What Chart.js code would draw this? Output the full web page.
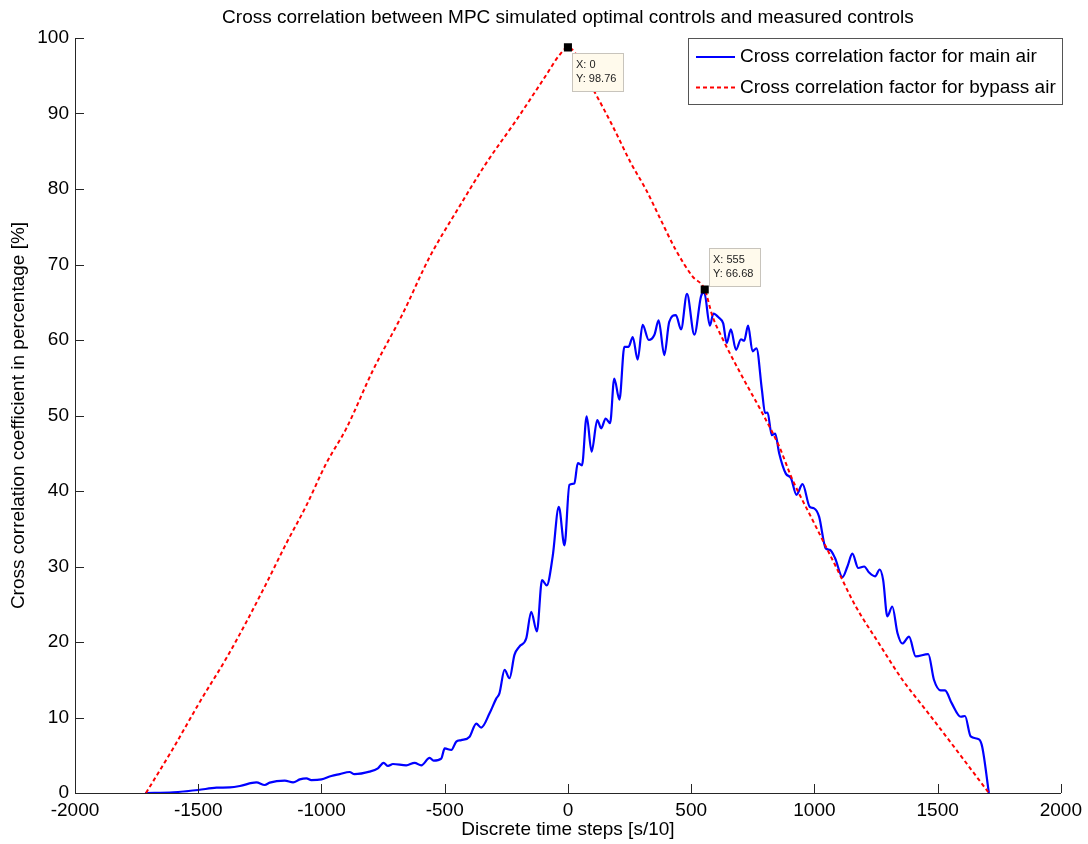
<!DOCTYPE html>
<html>
<head>
<meta charset="utf-8">
<title>Cross correlation</title>
<script src="https://cdn.jsdelivr.net/npm/chart.js@4.4.1/dist/chart.umd.min.js"></script>
<style>
  html, body { margin: 0; padding: 0; background: #fff; }
  canvas { display: block; }
</style>
</head>
<body>
<canvas id="xcorr" width="1088" height="844"></canvas>
<script>
// Lag (discrete steps) and cross-correlation [%] for the main air control
const mainLag = [-1716,-1601,-1500,-1426,-1372,-1331,-1264,-1230,-1210,-1149,-1115,-1088,-1061,-1041,-1000,
  -960,-926,-886,-866,-805,-771,-748,-730,-710,-656,-622,-595,-561,-545,-514,-500,-473,-453,-433,-399,
  -372,-352,-318,-291,-278,-257,-237,-217,-197,-169,-149,-126,-105,-86,-62,-37,-14,6,26,40,57,76,96,
  119,135,153,171,188,209,229,246,263,283,303,328,351,368,391,411,438,459,483,513,540,553,576,590,614,
  630,644,661,682,702,715,731,749,765,787,800,810,827,841,857,884,905,927,952,981,999,1019,1046,1063,
  1084,1114,1134,1154,1178,1202,1222,1246,1265,1279,1296,1316,1337,1357,1384,1411,1462,1485,1512,1530,
  1557,1594,1611,1634,1668,1681,1708];
const mainPct = [0,0.1,0.4,0.7,0.75,0.93,1.4,1.06,1.37,1.63,1.4,1.8,1.94,1.7,1.8,
  2.25,2.5,2.78,2.5,2.83,3.27,4.0,3.58,3.84,3.66,4.0,3.66,4.64,4.28,4.55,5.9,5.7,6.8,7.0,7.46,
  9.2,8.65,10.55,12.5,13.2,16.3,15.2,18.3,19.4,20.5,24.0,21.4,28.2,27.5,31.3,37.9,32.8,40.8,41.0,43.7,43.4,49.9,45.2,
  49.4,48.3,49.6,49.0,54.9,52.1,59.1,59.1,60.4,57.4,62.0,60.0,60.7,62.6,58.0,62.4,63.3,61.4,66.1,60.7,65.8,66.3,61.9,63.5,62.9,
  62.2,59.6,61.4,58.7,60.1,59.9,61.9,58.5,58.9,53.4,50.3,50.4,47.4,47.6,45.0,42.3,41.7,39.5,40.9,37.9,37.7,36.6,32.4,32.2,
  31.1,28.6,30.0,31.7,29.8,30.0,29.2,28.7,29.6,28.2,23.4,24.7,21.2,19.8,20.7,18.1,18.4,15.0,13.6,13.6,
  11.9,10.1,10.2,7.5,7.1,6.1,0];

// Lag and cross-correlation [%] for the bypass air control
const bypassLag = [-1712,-1602,-1493,-1385,-1304,-1223,-1142,-1061,-980,-899,-791,-670,-561,-440,-332,-210,-102,-28,0,
  107,182,256,317,371,438,506,555,587,627,708,789,857,911,992,1087,1168,1262,1357,1452,1546,1627,1708];
const bypassPct = [0,5.9,12.1,17.9,22.7,27.8,33.1,38.1,43.7,48.3,56.0,63.5,71.0,77.7,83.4,89.1,94.4,98.0,98.76,
  92.9,88.3,83.4,79.9,76.3,71.9,68.4,66.68,63.1,60.2,55.1,50.3,45.9,41.5,36.2,30.0,24.7,19.8,15.0,11.0,7.0,3.5,0];

// Data cursors placed on the bypass curve
const tipLag = [0, 555];
const tipPct = [98.76, 66.68];

const seriesNames = ['Cross correlation factor for main air', 'Cross correlation factor for bypass air'];
const chartTitle = 'Cross correlation between MPC simulated optimal controls and measured controls';
const xTitle = 'Discrete time steps [s/10]';
const yTitle = 'Cross correlation coefficient in percentage [%]';

const FONT = '"Liberation Sans", Arial, Helvetica, sans-serif';
const FONT_SIZE = 19;
const AXIS_COLOR = '#262626';
const pts = (xs, ys) => xs.map((x, i) => ({ x, y: ys[i] }));

// Titles, inward tick marks, legend box and data-cursor labels
const decor = {
  id: 'decor',
  afterDraw(chart) {
    const { ctx, chartArea: a, scales } = chart;
    const xs = scales.x, ys = scales.y;
    ctx.save();

    // inward ticks
    ctx.strokeStyle = AXIS_COLOR;
    ctx.lineWidth = 1;
    ctx.beginPath();
    xs.ticks.forEach(t => {
      const px = Math.round(xs.getPixelForValue(t.value)) + 0.5;
      ctx.moveTo(px, a.bottom);
      ctx.lineTo(px, a.bottom - 9);
    });
    ys.ticks.forEach(t => {
      const py = Math.round(ys.getPixelForValue(t.value)) + 0.5;
      ctx.moveTo(a.left, py);
      ctx.lineTo(a.left + 9, py);
    });
    ctx.stroke();

    // titles
    ctx.fillStyle = '#000';
    ctx.font = `${FONT_SIZE}px ${FONT}`;
    ctx.textAlign = 'center';
    ctx.textBaseline = 'middle';
    const cx = (a.left + a.right) / 2;
    ctx.fillText(chartTitle, cx, 18);
    ctx.fillText(xTitle, cx, 830);
    ctx.save();
    ctx.translate(19, (a.top + a.bottom) / 2);
    ctx.rotate(-Math.PI / 2);
    ctx.fillText(yTitle, 0, 0);
    ctx.restore();

    // legend
    const ds = chart.data.datasets;
    ctx.font = `${FONT_SIZE}px ${FONT}`;
    const textW = Math.max(...seriesNames.map(s => ctx.measureText(s).width));
    const boxW = Math.round(52 + textW + 6);
    const boxR = Math.round(a.right) + 1, boxT = Math.round(a.top);
    const boxL = boxR - boxW, boxH = 66;
    ctx.fillStyle = '#fff';
    ctx.fillRect(boxL, boxT, boxW, boxH);
    ctx.strokeStyle = '#555';
    ctx.lineWidth = 1;
    ctx.strokeRect(boxL + 0.5, boxT + 0.5, boxW, boxH);
    seriesNames.forEach((name, i) => {
      const rowY = boxT + 19 + i * 30.5;
      ctx.save();
      ctx.strokeStyle = ds[i].borderColor;
      ctx.lineWidth = ds[i].borderWidth;
      ctx.setLineDash(ds[i].borderDash || []);
      ctx.beginPath();
      ctx.moveTo(boxL + 8, rowY);
      ctx.lineTo(boxL + 47, rowY);
      ctx.stroke();
      ctx.restore();
      ctx.fillStyle = '#000';
      ctx.textAlign = 'left';
      ctx.textBaseline = 'middle';
      ctx.fillText(name, boxL + 52, rowY);
    });

    // data-cursor labels
    const place = ['below', 'above'];
    ctx.font = `11px ${FONT}`;
    tipLag.forEach((lag, i) => {
      const px = xs.getPixelForValue(lag);
      const py = ys.getPixelForValue(tipPct[i]);
      const w = 51, h = 38;
      const left = Math.round(px + 4);
      const top = Math.round(place[i] === 'below' ? py + 6 : py - 4 - h);
      ctx.fillStyle = '#fffaec';
      ctx.fillRect(left, top, w, h);
      ctx.strokeStyle = '#c8c4bc';
      ctx.strokeRect(left + 0.5, top + 0.5, w, h);
      ctx.fillStyle = '#222';
      ctx.textAlign = 'left';
      ctx.textBaseline = 'middle';
      ctx.fillText('X: ' + lag, left + 4, top + 12);
      ctx.fillText('Y: ' + tipPct[i].toFixed(2), left + 4, top + 26);
    });

    ctx.restore();
  }
};

const tickFont = { size: FONT_SIZE, family: FONT };
const plainTick = v => String(v);

new Chart(document.getElementById('xcorr').getContext('2d'), {
  type: 'scatter',
  data: {
    datasets: [
      {
        label: seriesNames[0],
        data: pts(mainLag, mainPct),
        showLine: true,
        borderColor: '#0000ff',
        borderWidth: 2.2,
        pointRadius: 0,
        cubicInterpolationMode: 'monotone',
        order: 2
      },
      {
        label: seriesNames[1],
        data: pts(bypassLag, bypassPct),
        showLine: true,
        borderColor: '#ff0000',
        borderWidth: 2,
        borderDash: [4, 3],
        pointRadius: 0,
        cubicInterpolationMode: 'monotone',
        order: 1
      },
      {
        label: 'cursor',
        data: pts(tipLag, tipPct),
        showLine: false,
        pointStyle: 'rect',
        pointRadius: 5.7,
        backgroundColor: '#000',
        borderColor: '#000',
        borderWidth: 0,
        order: 0
      }
    ]
  },
  options: {
    responsive: false,
    animation: false,
    devicePixelRatio: 1,
    events: [],
    layout: { padding: { top: 38, right: 26, left: 0, bottom: 0 } },
    plugins: {
      legend: { display: false },
      tooltip: { enabled: false },
      title: { display: false }
    },
    scales: {
      x: {
        type: 'linear',
        min: -2000,
        max: 2000,
        ticks: { stepSize: 500, color: '#000', font: tickFont, padding: 6, maxRotation: 0, autoSkip: false, callback: plainTick },
        grid: { display: false, drawTicks: false },
        border: { display: true, color: AXIS_COLOR, width: 1 },
        afterFit(s) { s.height = 51; }
      },
      y: {
        type: 'linear',
        min: 0,
        max: 100,
        ticks: { stepSize: 10, color: '#000', font: tickFont, padding: 6, autoSkip: false, callback: plainTick },
        grid: { display: false, drawTicks: false },
        border: { display: true, color: AXIS_COLOR, width: 1 },
        afterFit(s) { s.width = 75; }
      }
    }
  },
  plugins: [decor]
});
</script>
</body>
</html>
